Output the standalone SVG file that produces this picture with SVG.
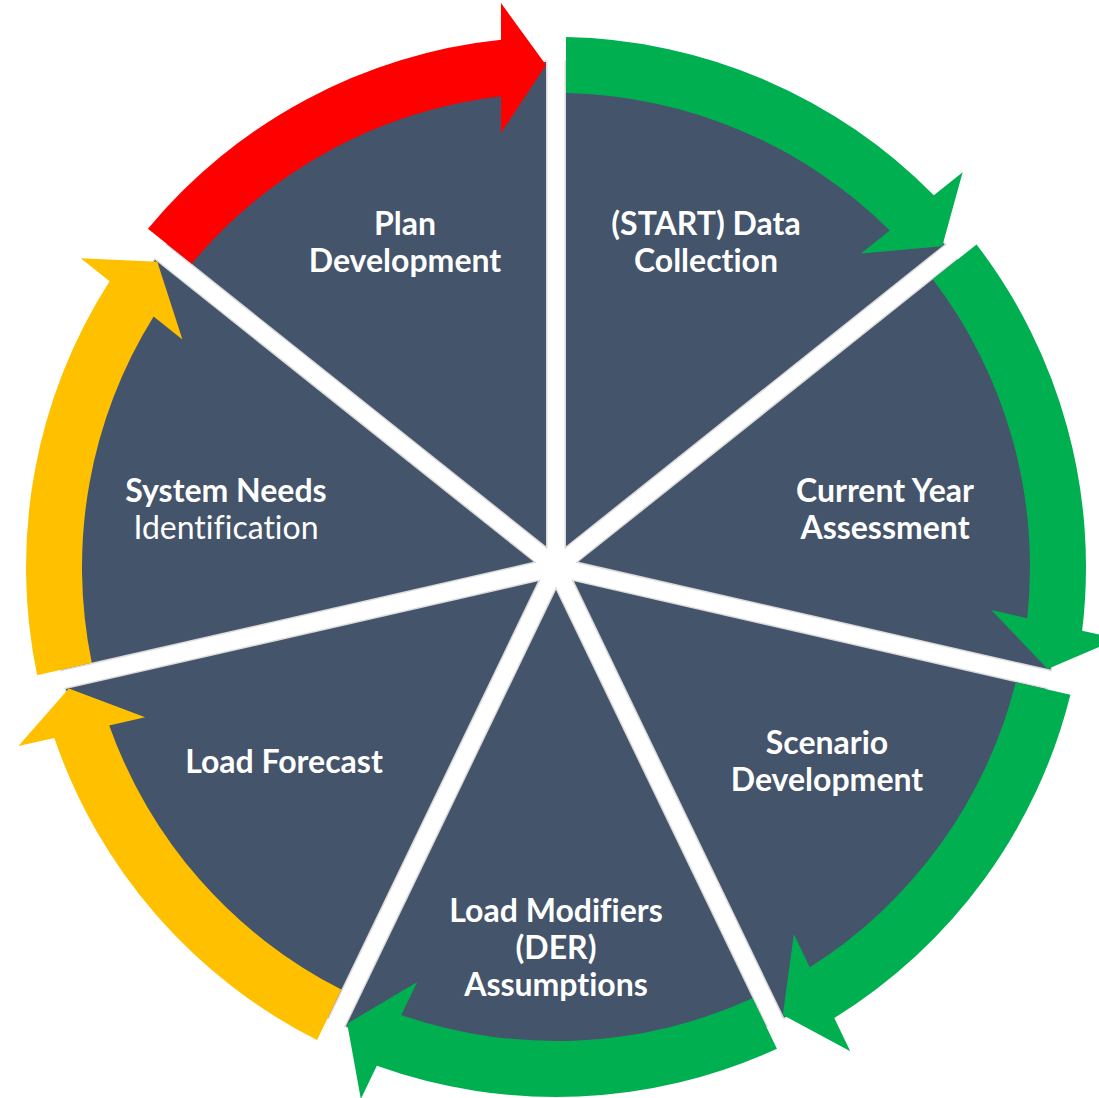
<svg xmlns="http://www.w3.org/2000/svg" width="1099" height="1098" viewBox="0 0 1099 1098">
<style>
.sec{fill:#44546A;stroke:#DCDCDC;stroke-width:3;paint-order:stroke;stroke-linejoin:miter}
.g{fill:#00B050}
.y{fill:#FFC000}
.r{fill:#FF0000}
.t{font-family:Lato,"Liberation Sans",sans-serif;font-size:32px;font-weight:bold;fill:#FFFFFF;text-anchor:middle;font-variant-ligatures:none}
.n{font-weight:normal}
</style>
<rect width="1099" height="1098" fill="#FFFFFF"/>
<g id="sector-data-collection">
<path class="sec" d="M566,546.23 L566,62.1 A505,505 0 0 1 944.52,244.38 Z"/>
<text class="t" x="706" y="235">(START) Data</text>
<text class="t" x="706" y="272">Collection</text>
</g>
<g id="sector-current-year">
<path class="sec" d="M578.47,561.87 L956.97,260.02 A505,505 0 0 1 1050.47,669.6 Z"/>
<text class="t" x="885" y="502">Current Year</text>
<text class="t" x="885" y="539">Assessment</text>
</g>
<g id="sector-scenario">
<path class="sec" d="M574.02,581.37 L1046.01,689.1 A505,505 0 0 1 784.08,1017.56 Z"/>
<text class="t" x="827" y="754">Scenario</text>
<text class="t" x="827" y="791">Development</text>
</g>
<g id="sector-load-modifiers">
<path class="sec" d="M556,590.05 L766.06,1026.24 A505,505 0 0 1 345.94,1026.24 Z"/>
<text class="t" x="556" y="922">Load Modifiers</text>
<text class="t" x="556" y="959">(DER)</text>
<text class="t" x="556" y="996">Assumptions</text>
</g>
<g id="sector-load-forecast">
<path class="sec" d="M537.98,581.37 L327.92,1017.56 A505,505 0 0 1 65.99,689.1 Z"/>
<text class="t" x="284" y="773">Load Forecast</text>
</g>
<g id="sector-system-needs">
<path class="sec" d="M533.53,561.87 L61.53,669.6 A505,505 0 0 1 155.02,260.02 Z"/>
<text class="t" x="226" y="502">System Needs</text>
<text class="t n" x="226" y="539">Identification</text>
</g>
<g id="sector-plan-development">
<path class="sec" d="M546,546.23 L167.48,244.38 A505,505 0 0 1 546,62.1 Z"/>
<text class="t" x="405" y="235">Plan</text>
<text class="t" x="405" y="272">Development</text>
</g>
<g id="connectors">
<path class="g" d="M566,37.09 A530,530 0 0 1 933.85,195.33 L962.66,172.35 L942.25,246.19 L861.02,253.41 L889.8,230.46 A474,474 0 0 0 566,93.11 Z"/>
<path class="g" d="M976.53,244.43 A530,530 0 0 1 1082.16,630.68 L1118.1,638.88 L1047.64,668.96 L991.36,609.95 L1027.24,618.14 A474,474 0 0 0 932.73,279.35 Z"/>
<path class="g" d="M1070.39,694.67 A530,530 0 0 1 834.27,1018.08 L850.26,1051.29 L782.82,1014.95 L793.85,934.16 L809.82,967.32 A474,474 0 0 0 1015.78,682.2 Z"/>
<path class="g" d="M776.91,1048.78 A530,530 0 0 1 376.83,1065.8 L360.84,1099.01 L347.2,1023.63 L417.25,981.88 L401.28,1015.04 A474,474 0 0 0 752.6,998.3 Z"/>
<path class="y" d="M317.07,1040.1 A530,530 0 0 1 54.32,737.92 L18.38,746.12 L68.82,688.46 L145.12,717.19 L109.24,725.38 A474,474 0 0 0 341.38,989.62 Z"/>
<path class="y" d="M37.15,675.17 A530,530 0 0 1 109.57,281.33 L80.76,258.35 L157.29,261.83 L182.4,339.41 L153.62,316.46 A474,474 0 0 0 91.76,662.7 Z"/>
<path class="r" d="M147.93,228.79 A530,530 0 0 1 501,39.86 L501,3 L546,65 L501,133 L501,96.2 A474,474 0 0 0 191.73,263.71 Z"/>
</g>
</svg>
